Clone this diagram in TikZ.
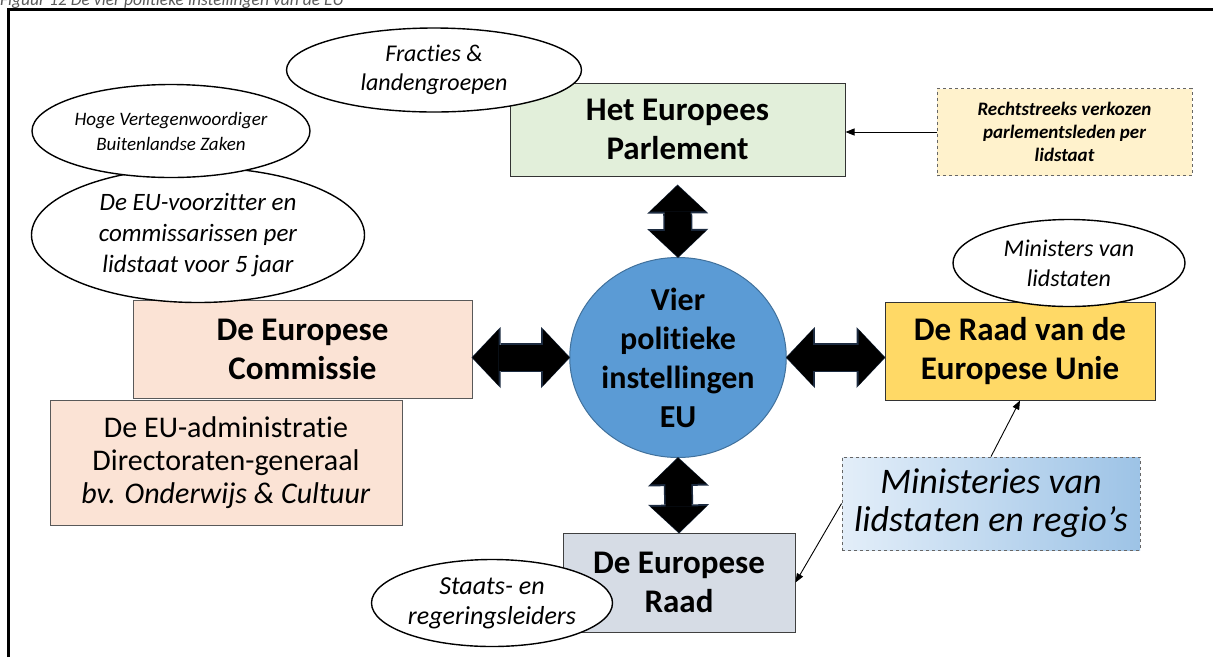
\documentclass[tikz,border=0pt]{standalone}
\usepackage{fontspec}
\setmainfont{Carlito}[Ligatures=NoCommon]
\usetikzlibrary{shapes.geometric,arrows.meta}
\definecolor{parlgreen}{HTML}{E2EFDA}
\definecolor{voteyellow}{HTML}{FFF2CC}
\definecolor{peach}{HTML}{FBE3D5}
\definecolor{gold}{HTML}{FFD966}
\definecolor{councilgray}{HTML}{D6DCE5}
\definecolor{circblue}{HTML}{5B9BD5}
\definecolor{circedge}{HTML}{41719C}
\definecolor{minlight}{HTML}{E3EEF9}
\definecolor{mindark}{HTML}{9DC3E6}
\definecolor{capgray}{HTML}{595959}
\definecolor{arrowedge}{HTML}{1C2B40}
\begin{document}
\begin{tikzpicture}[x=1pt,y=-1pt,
  box/.style={rectangle, draw=black!80, line width=1pt, inner sep=0pt, align=center},
  titlefont/.style={font=\bfseries\fontsize{33}{39}\selectfont},
  oval/.style={ellipse, draw=black, line width=1.4pt, fill=white, inner sep=0pt, align=center},
  dashbox/.style={rectangle, draw=black!60, dashed, line width=0.9pt, inner sep=0pt, align=center},
  blockedge/.style={line width=29pt, draw=arrowedge,
     {Triangle[width=61pt,length=29pt,line width=0pt]}-{Triangle[width=61pt,length=29pt,line width=0pt]}},
  blockarr/.style={line width=26pt, draw=black,
     {Triangle[width=56pt,length=26pt,line width=0pt]}-{Triangle[width=56pt,length=26pt,line width=0pt]}},
  thinarr/.style={line width=0.9pt, -{Triangle[width=7pt,length=9pt]}}]
\useasboundingbox (0,0) rectangle (1213,657);
\clip (0,0) rectangle (1213,657);
% caption (cut off at the top, as in the source)
\node[anchor=base west, inner sep=0pt, text=capgray, font=\itshape\fontsize{17.5}{21}\selectfont] (cap) at (0,5) {Figuur 12 De vier politieke instellingen van de EU};
% frame
\draw[line width=3pt] (8,657) -- (8,9) -- (1213,9);
% boxes
\node[box, titlefont, fill=parlgreen, minimum width=335, minimum height=93] (parl) at (677.5,129.5) {Het Europees\\Parlement};
\node[dashbox, fill=voteyellow, minimum width=255, minimum height=87, font=\bfseries\itshape\fontsize{19}{23}\selectfont] (vote) at (1064.5,132) {Rechtstreeks verkozen\\parlementsleden per\\lidstaat};
\node[box, titlefont, fill=peach, draw=black!65, minimum width=339, minimum height=98] (comm) at (302.5,349) {De Europese\\Commissie};
\node[box, fill=peach, draw=black!65, minimum width=352, minimum height=125, font=\fontsize{30}{33}\selectfont] (admin) at (226,462.5) {De EU-administratie\\Directoraten-generaal\\\textit{bv. Onderwijs \& Cultuur}};
\node[box, titlefont, fill=gold, minimum width=270, minimum height=98] (raad) at (1020,351) {De Raad van de\\Europese Unie};
\node[box, titlefont, fill=councilgray, draw=black!75, minimum width=232, minimum height=99] (eur) at (679,582.5) {De Europese\\Raad};
\node[dashbox, left color=minlight, right color=mindark, minimum width=298, minimum height=93, font=\itshape\fontsize{36}{38}\selectfont] (minist) at (991,503.5) {Ministeries van\\lidstaten en regio's};
% centre
\node[ellipse, fill=circblue, draw=circedge, line width=1pt, minimum width=213, minimum height=200, inner sep=0pt, align=center, font=\bfseries\fontsize{32}{39}\selectfont] (circ) at (678,357.5) {Vier\\politieke\\instellingen\\EU};
% ovals
\node[oval, minimum width=295, minimum height=84, font=\itshape\fontsize{24}{29}\selectfont] (frac) at (434,70) {Fracties \&\\landengroepen};
\node[oval, minimum width=333, minimum height=135, font=\itshape\fontsize{25}{31}\selectfont] (voorz) at (198,235) {De EU-voorzitter en\\commissarissen per\\lidstaat voor 5 jaar};
\node[oval, minimum width=278, minimum height=93, font=\itshape\fontsize{19}{25}\selectfont] (hoge) at (171,131) {Hoge Vertegenwoordiger\\Buitenlandse Zaken};
\node[oval, minimum width=232, minimum height=87, font=\itshape\fontsize{24}{30}\selectfont] (mins) at (1069,263) {Ministers van\\lidstaten};
\node[oval, minimum width=241, minimum height=87, font=\itshape\fontsize{26}{30}\selectfont] (staats) at (492,603) {Staats- en\\regeringsleiders};
% block arrows (dark edge, then black body)
\draw[blockedge, shorten <=8pt, shorten >=-1pt] (parl.south) -- (circ.north);
\draw[blockarr, shorten <=9pt] (parl.south) -- (circ.north);
\draw[blockedge, shorten <=-1pt, shorten >=-1pt] (comm.east |- circ.west) -- (circ.west);
\draw[blockarr] (comm.east |- circ.west) -- (circ.west);
\draw[blockedge, shorten <=-1pt, shorten >=-1pt] (circ.east) -- (raad.west |- circ.east);
\draw[blockarr] (circ.east) -- (raad.west |- circ.east);
\draw[blockedge, shorten <=-1pt, shorten >=-1pt] (circ.south) -- (eur.north);
\draw[blockarr] (circ.south) -- (eur.north);
% thin arrows
\draw[thinarr] (vote.west) -- (parl.east |- vote.west);
\draw[thinarr] (minist.north) -- (raad.south);
\draw[thinarr] (minist.west) -- (eur.east);
\end{tikzpicture}
\end{document}
